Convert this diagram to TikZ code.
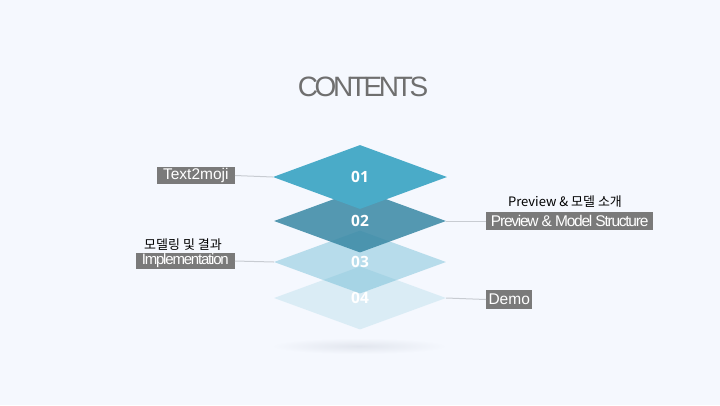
\documentclass[tikz,border=0pt]{standalone}
\usepackage{fontspec}
\setmainfont{Liberation Sans}
\newfontfamily\titlefont{Liberation Sans}[LetterSpace=-12]
\newfontfamily\tightfont{Liberation Sans}[LetterSpace=-8]
\newfontfamily\numfont{Open Sans}[BoldFont={Open Sans Bold}]
\newfontfamily\cjkfont{Noto Sans CJK KR}
\usetikzlibrary{shapes.geometric}

\definecolor{bgcol}{HTML}{F5F8FE}
\definecolor{topblue}{HTML}{4AABC8}
\definecolor{midblue}{HTML}{3A89A5}
\definecolor{paleblue}{HTML}{46A8C8}
\definecolor{boxgray}{HTML}{7A7A7A}
\definecolor{titlegray}{HTML}{6F6F6F}
\definecolor{leadgray}{HTML}{C8CCD2}
\definecolor{shadowcol}{HTML}{E2E6EE}

\tikzset{
    layer/.style={diamond, minimum width=172pt, minimum height=63pt, inner sep=0pt,
        text=white, text opacity=1, font=\numfont\bfseries\fontsize{15.5}{18}\selectfont},
    tagbox/.style={fill=boxgray, text=white, inner sep=0pt, minimum height=17pt,
        font=\fontsize{15.5}{17}\selectfont},
    subtitle/.style={text=black, inner sep=0pt, font=\cjkfont\fontsize{13}{15}\selectfont},
    leader/.style={draw=leadgray, line width=1pt}
}

\begin{document}
\begin{tikzpicture}[x=1pt, y=-1pt]
    % Background
    \fill[bgcol] (0,0) rectangle (720,405);
    \useasboundingbox (0,0) rectangle (720,405);

    % Title
    \node[text=titlegray, font=\titlefont\fontsize{28}{30}\selectfont] (title) at (363,87) {CONTENTS};

    % Shadow below the stack
    \shade[inner color=shadowcol, outer color=bgcol] (359,346) ellipse (88 and 8);

    % Stacked layers, bottom first
    \node[layer, fill=paleblue, fill opacity=0.15] (d4) at (360,298) {04};
    \node[layer, fill=paleblue, fill opacity=0.35] (d3) at (360,262) {03};
    \node[layer, fill=midblue, fill opacity=0.86] (d2) at (360,221) {02};
    \node[layer, fill=topblue, minimum width=174pt, minimum height=64pt] (d1) at (360,177) {01};

    % Left labels
    \node[tagbox, minimum width=78pt, anchor=east] (t1) at (235,175.5) {Text2moji};
    \node[subtitle] (s3) at (183,245) {모델링 및 결과};
    \node[tagbox, minimum width=99pt, minimum height=16pt, anchor=east,
        font=\tightfont\fontsize{15}{16}\selectfont] (t3) at (235,261) {Implementation};

    % Right labels
    \node[subtitle] (s2) at (565,202) {Preview \& 모델 소개};
    \node[tagbox, minimum width=167pt, minimum height=18pt, anchor=west,
        font=\tightfont\fontsize{15.5}{17}\selectfont] (t2) at (486,221) {Preview \& Model Structure};
    \node[tagbox, minimum width=46pt, minimum height=19pt, anchor=west] (t4) at (486,299.5) {Demo};

    % Leader lines
    \draw[leader] (t1.east) -- (d1.west);
    \draw[leader] (t3.east) -- (d3.west);
    \draw[leader] (d2.east) -- (t2.west);
    \draw[leader] (d4.east) -- (t4.west);
\end{tikzpicture}
\end{document}
